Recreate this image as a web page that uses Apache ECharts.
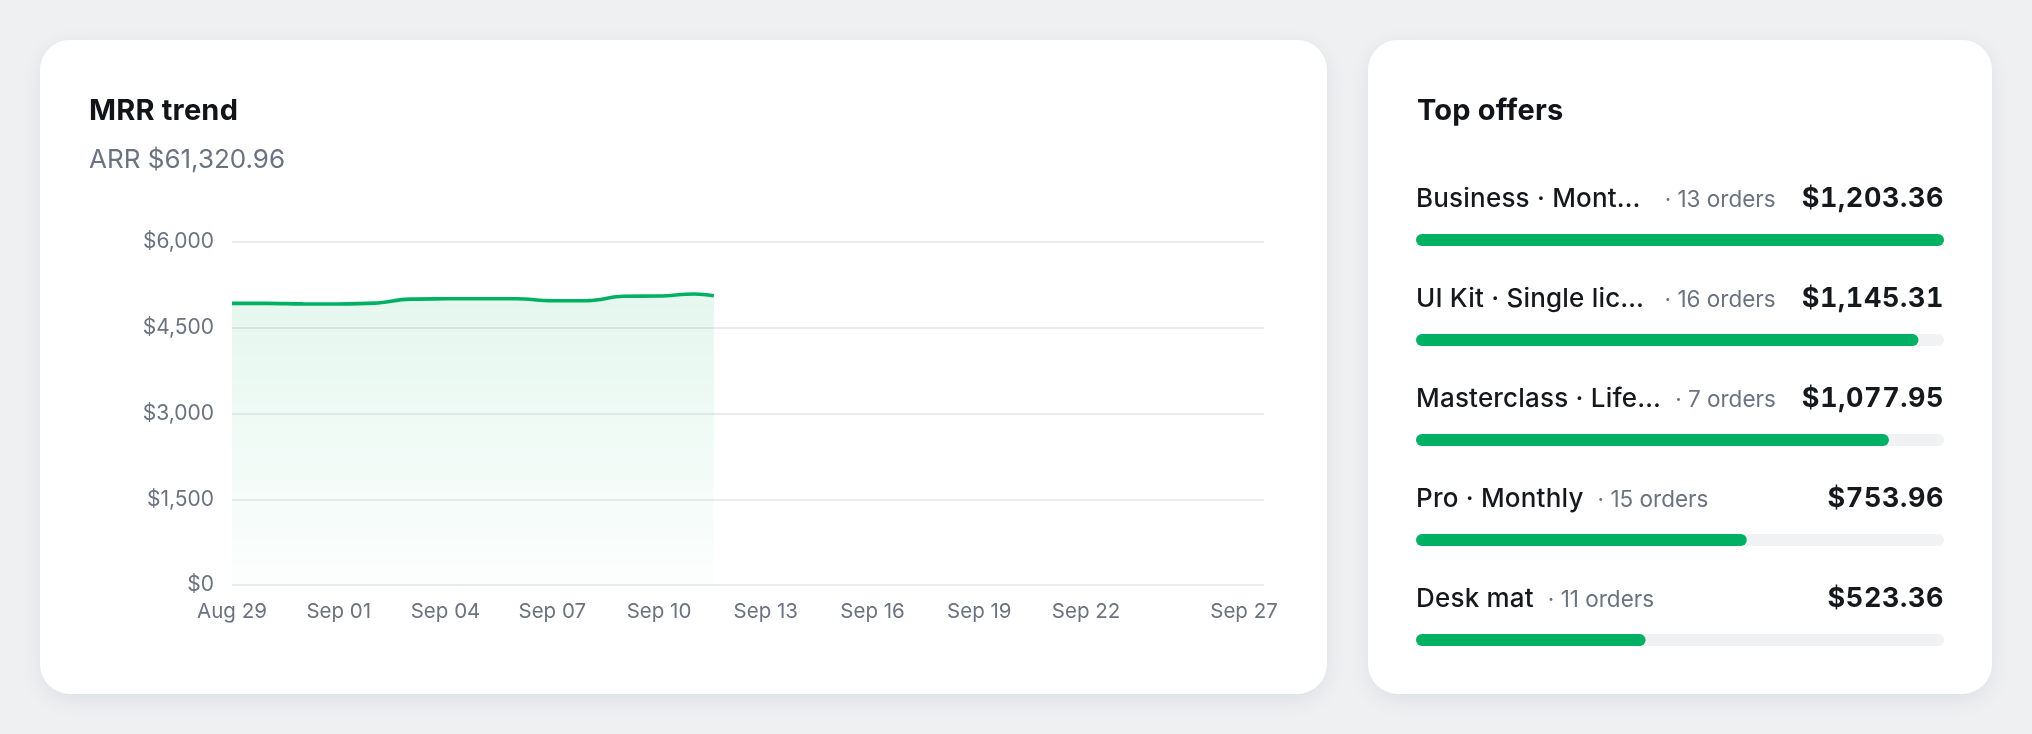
<!DOCTYPE html>
<html>
<head>
<meta charset="utf-8">
<script src="https://cdn.jsdelivr.net/npm/echarts@6/dist/echarts.min.js"></script>
<style>
  html, body { margin:0; padding:0; width:2032px; height:734px; background:#eef0f2; overflow:hidden; font-family: Inter, "Noto Sans", sans-serif; }
  .card { position:absolute; background:#fff; border-radius:30px; box-shadow:0 6px 22px rgba(20,30,40,0.07); z-index:0; }
  #chart { position:absolute; left:0; top:0; width:2032px; height:734px; z-index:1; }
  .txt { position:absolute; z-index:2; white-space:nowrap; }
  .title { font-size:29px; line-height:29px; font-weight:700; color:#111418; letter-spacing:0.2px; }
  .sub { font-size:26px; line-height:26px; font-weight:400; color:#6b7280; }
  .row { position:absolute; z-index:2; left:1416px; width:528px; height:26px; display:flex; align-items:baseline; white-space:nowrap; }
  .row .name { font-size:26px; line-height:26px; font-weight:500; color:#15181d; flex:none; letter-spacing:0.2px; }
  .row.cut .name { flex:1 1 auto; }
  .row .ord { font-size:22.5px; line-height:26px; color:#6b7280; margin-left:14px; flex:none; }
  .row .sp { flex:1; }
  .row.cut .sp { flex:none; width:0; }
  .row .amt { font-size:27px; line-height:26px; font-weight:700; color:#15181d; flex:none; letter-spacing:0.6px; margin-left:26px; font-feature-settings:'tnum' 1; font-variant-numeric:tabular-nums; }
</style>
</head>
<body>
<div class="card" style="left:40px;top:40px;width:1287px;height:654px;"></div>
<div class="card" style="left:1368px;top:40px;width:624px;height:654px;"></div>
<div id="chart"></div>
<div class="txt title" style="left:89px;top:95px;">MRR trend</div>
<div class="txt sub" style="left:89px;top:146px;">ARR $61,320.96</div>
<div class="txt title" style="left:1417px;top:95px;">Top offers</div>
<div id="rows"></div>
<script>
// ---- data ----
const mrrDates = ['2025-08-29','2025-08-30','2025-08-31','2025-09-01','2025-09-02','2025-09-03','2025-09-04','2025-09-05','2025-09-06','2025-09-07','2025-09-08','2025-09-09','2025-09-10','2025-09-11','2025-09-11 13:00'];
const mrrValues = [4927, 4926, 4918, 4916, 4930, 5000, 5006, 5008, 5006, 4973, 4975, 5050, 5055, 5090, 5060];
const axisStart = '2025-08-29';
const axisEnd = '2025-09-27';
const tickDates = ['2025-08-29','2025-09-01','2025-09-04','2025-09-07','2025-09-10','2025-09-13','2025-09-16','2025-09-19','2025-09-22','2025-09-27'];
const yTicks = [0, 1500, 3000, 4500, 6000];

const offerNames = ['Business · Mont…', 'UI Kit · Single lic…', 'Masterclass · Life…', 'Pro · Monthly', 'Desk mat'];
const offerOrders = [13, 16, 7, 15, 11];
const offerRevenue = [1203.36, 1145.31, 1077.95, 753.96, 523.36];

// ---- helpers ----
const MONTHS = ['Jan','Feb','Mar','Apr','May','Jun','Jul','Aug','Sep','Oct','Nov','Dec'];
function ts(s) {
  const m = s.match(/(\d+)-(\d+)-(\d+)(?:\s+(\d+):(\d+))?/);
  return new Date(+m[1], +m[2]-1, +m[3], m[4] ? +m[4] : 0, m[5] ? +m[5] : 0).getTime();
}
function fmtDate(v) {
  const d = new Date(v);
  return MONTHS[d.getMonth()] + ' ' + String(d.getDate()).padStart(2,'0');
}
function money(v, dec) {
  return '$' + v.toLocaleString('en-US', {minimumFractionDigits:dec, maximumFractionDigits:dec});
}

// ---- text rows ----
const rowsEl = document.getElementById('rows');
offerNames.forEach((n, i) => {
  const r = document.createElement('div');
  r.className = 'row' + (n.endsWith('…') ? ' cut' : '');
  r.style.top = (185 + i*100) + 'px';
  r.innerHTML = '<span class="name"></span><span class="ord"></span><span class="sp"></span><span class="amt"></span>';
  r.children[0].textContent = n;
  r.children[1].textContent = '· ' + offerOrders[i] + ' orders';
  r.children[3].textContent = money(offerRevenue[i], 2);
  rowsEl.appendChild(r);
});

// ---- chart ----
const GREEN = '#00b164';
const chart = echarts.init(document.getElementById('chart'), null, {renderer:'canvas'});
const lastTick = ts(tickDates[tickDates.length-1]);
chart.setOption({
  animation: false,
  textStyle: { fontFamily: 'Inter, "Noto Sans", sans-serif' },
  grid: [
    { left: 232, right: 768, top: 242, bottom: 149 },
    { left: 1416, right: 88, top: 190, bottom: 44 }
  ],
  xAxis: [
    {
      type: 'value', gridIndex: 0,
      min: ts(axisStart), max: ts(axisEnd),
      axisLine: { show: false }, axisTick: { show: false }, splitLine: { show: false },
      axisLabel: {
        customValues: tickDates.map(ts),
        color: '#6b7280', fontSize: 20.5, margin: 16,
        formatter: v => (v === lastTick ? '{e|' + fmtDate(v) + '}' : fmtDate(v)),
        rich: { e: { color: '#6b7280', fontSize: 20.5, padding: [0, 40, 0, 0] } }
      }
    },
    {
      type: 'value', gridIndex: 1, min: 0, max: Math.max(...offerRevenue), show: false
    }
  ],
  yAxis: [
    {
      type: 'value', gridIndex: 0, min: yTicks[0], max: yTicks[yTicks.length-1], interval: yTicks[1]-yTicks[0],
      axisLine: { show: false }, axisTick: { show: false },
      splitLine: { lineStyle: { color: '#e3e5e8', width: 1.5 } },
      axisLabel: { color: '#6b7280', fontSize: 21, margin: 18, formatter: v => money(v, 0) }
    },
    {
      type: 'category', gridIndex: 1, inverse: true, data: offerNames, show: false
    }
  ],
  series: [
    {
      type: 'line', xAxisIndex: 0, yAxisIndex: 0,
      data: mrrDates.map((d, i) => [ts(d), mrrValues[i]]),
      smooth: 0.4, showSymbol: false, symbol: 'none',
      lineStyle: { color: GREEN, width: 3.6 },
      itemStyle: { color: GREEN },
      areaStyle: {
        color: new echarts.graphic.LinearGradient(0, 0, 0, 1, [
          { offset: 0, color: 'rgba(0,177,100,0.15)' },
          { offset: 1, color: 'rgba(0,177,100,0.015)' }
        ])
      }
    },
    {
      type: 'bar', xAxisIndex: 1, yAxisIndex: 1,
      data: offerRevenue,
      barWidth: 12,
      showBackground: true,
      backgroundStyle: { color: '#f1f2f4', borderRadius: 6 },
      itemStyle: { color: GREEN, borderRadius: 6 }
    }
  ]
});
</script>
</body>
</html>
